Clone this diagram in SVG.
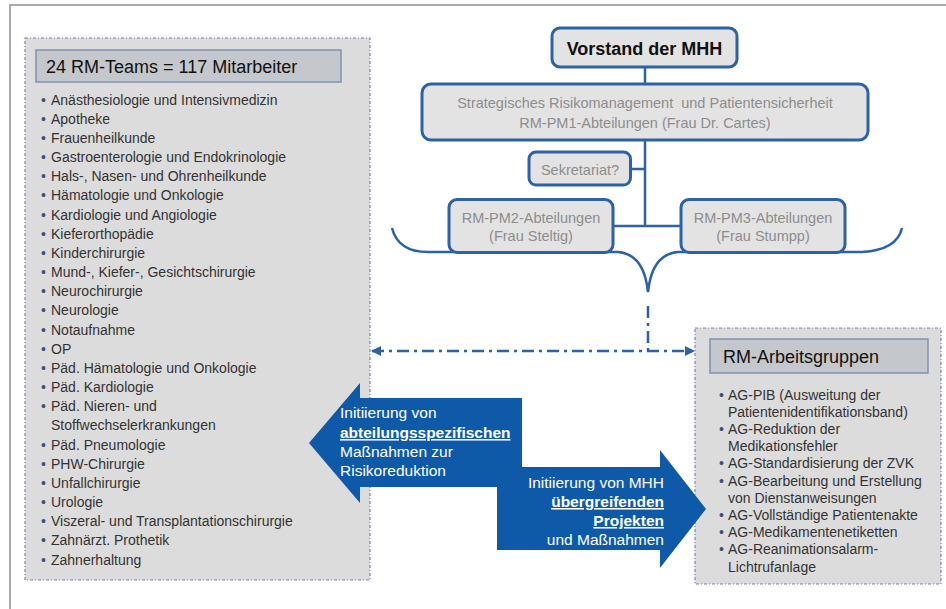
<svg xmlns="http://www.w3.org/2000/svg" width="946" height="609" viewBox="0 0 946 609">
<defs>
<style>
text{font-family:"Liberation Sans",Arial,sans-serif}
.frame{stroke:#a9a9a9;stroke-width:2;fill:none}
.panel{fill:#dcdcdc;stroke:#7f80b8;stroke-width:1.2;stroke-dasharray:3 2 1 2}
.hdr{fill:#c4c7cb;stroke:#7f93b3;stroke-width:1.5}
.hdrt{font-size:18px;fill:#111}
.li{font-size:14px;fill:#333}
.b{fill:#3c4f7a}
.node{fill:#e3e3e3;stroke:#2d62a6;stroke-width:3}
.nt{font-size:14.5px;fill:#8d8d8d;text-anchor:middle}
.tree{stroke:#2d62a6;stroke-width:2.5;fill:none}
.dd{stroke:#2d62a6;stroke-width:2.5;fill:none;stroke-dasharray:12 5 3 5}
.arrow{fill:#0f5aa8}
.at{font-size:15.5px;fill:#fff}
.u{font-weight:bold;text-decoration:underline}
</style>
<marker id="ah" viewBox="0 0 10 10" refX="9" refY="5" markerWidth="4" markerHeight="4" orient="auto-start-reverse">
<path d="M0,0 L10,5 L0,10 Z" fill="#2d62a6"/>
</marker>
</defs>
<rect width="946" height="609" fill="#fff"/>
<path class="frame" d="M10,609 L10,5 L946,5"/>

<g id="rm-teams">
<rect class="panel" x="25" y="38" width="345" height="542"/>
<rect class="hdr" x="36" y="50" width="305" height="32"/>
<text class="hdrt" x="46" y="72.5">24 RM-Teams = 117 Mitarbeiter</text>
<g class="li">
<text y="104.5"><tspan class="b" x="41">•</tspan><tspan x="51">Anästhesiologie und Intensivmedizin</tspan></text>
<text y="123.7"><tspan class="b" x="41">•</tspan><tspan x="51">Apotheke</tspan></text>
<text y="142.8"><tspan class="b" x="41">•</tspan><tspan x="51">Frauenheilkunde</tspan></text>
<text y="162"><tspan class="b" x="41">•</tspan><tspan x="51">Gastroenterologie und Endokrinologie</tspan></text>
<text y="181.2"><tspan class="b" x="41">•</tspan><tspan x="51">Hals-, Nasen- und Ohrenheilkunde</tspan></text>
<text y="200.4"><tspan class="b" x="41">•</tspan><tspan x="51">Hämatologie und Onkologie</tspan></text>
<text y="219.5"><tspan class="b" x="41">•</tspan><tspan x="51">Kardiologie und Angiologie</tspan></text>
<text y="238.7"><tspan class="b" x="41">•</tspan><tspan x="51">Kieferorthopädie</tspan></text>
<text y="257.9"><tspan class="b" x="41">•</tspan><tspan x="51">Kinderchirurgie</tspan></text>
<text y="277"><tspan class="b" x="41">•</tspan><tspan x="51">Mund-, Kiefer-, Gesichtschirurgie</tspan></text>
<text y="296.2"><tspan class="b" x="41">•</tspan><tspan x="51">Neurochirurgie</tspan></text>
<text y="315.4"><tspan class="b" x="41">•</tspan><tspan x="51">Neurologie</tspan></text>
<text y="334.5"><tspan class="b" x="41">•</tspan><tspan x="51">Notaufnahme</tspan></text>
<text y="353.7"><tspan class="b" x="41">•</tspan><tspan x="51">OP</tspan></text>
<text y="372.9"><tspan class="b" x="41">•</tspan><tspan x="51">Päd. Hämatologie und Onkologie</tspan></text>
<text y="392.1"><tspan class="b" x="41">•</tspan><tspan x="51">Päd. Kardiologie</tspan></text>
<text y="411.2"><tspan class="b" x="41">•</tspan><tspan x="51">Päd. Nieren- und</tspan></text>
<text y="430.4" x="51">Stoffwechselerkrankungen</text>
<text y="449.6"><tspan class="b" x="41">•</tspan><tspan x="51">Päd. Pneumologie</tspan></text>
<text y="468.7"><tspan class="b" x="41">•</tspan><tspan x="51">PHW-Chirurgie</tspan></text>
<text y="487.9"><tspan class="b" x="41">•</tspan><tspan x="51">Unfallchirurgie</tspan></text>
<text y="507.1"><tspan class="b" x="41">•</tspan><tspan x="51">Urologie</tspan></text>
<text y="526.2"><tspan class="b" x="41">•</tspan><tspan x="51">Viszeral- und Transplantationschirurgie</tspan></text>
<text y="545.4"><tspan class="b" x="41">•</tspan><tspan x="51">Zahnärzt. Prothetik</tspan></text>
<text y="564.6"><tspan class="b" x="41">•</tspan><tspan x="51">Zahnerhaltung</tspan></text>
</g>
</g>

<g id="rm-arbeitsgruppen">
<rect class="panel" x="695" y="328" width="246" height="256"/>
<rect class="hdr" x="710" y="339" width="218" height="34"/>
<text class="hdrt" x="723" y="363">RM-Arbeitsgruppen</text>
<g class="li">
<text y="399.5"><tspan class="b" x="719">•</tspan><tspan x="728">AG-PIB (Ausweitung der</tspan></text>
<text y="416.7" x="728">Patientenidentifikationsband)</text>
<text y="433.9"><tspan class="b" x="719">•</tspan><tspan x="728">AG-Reduktion der</tspan></text>
<text y="451.1" x="728">Medikationsfehler</text>
<text y="468.3"><tspan class="b" x="719">•</tspan><tspan x="728">AG-Standardisierung der ZVK</tspan></text>
<text y="485.5"><tspan class="b" x="719">•</tspan><tspan x="728">AG-Bearbeitung und Erstellung</tspan></text>
<text y="502.7" x="728">von Dienstanweisungen</text>
<text y="519.9"><tspan class="b" x="719">•</tspan><tspan x="728">AG-Vollständige Patientenakte</tspan></text>
<text y="537.1"><tspan class="b" x="719">•</tspan><tspan x="728">AG-Medikamentenetiketten</tspan></text>
<text y="554.3"><tspan class="b" x="719">•</tspan><tspan x="728">AG-Reanimationsalarm-</tspan></text>
<text y="571.5" x="728">Lichtrufanlage</text>
</g>
</g>

<g id="connectors">
<path class="tree" d="M645,67 L645,84 M645,140 L645,226 M630.5,169 L645,169 M613,226 L681,226"/>
<path class="tree" d="M392,228 Q398,252 428,252 L618,252 Q644,254 648,292 Q652,254 678,252 L862,252 Q897,250 902,228"/>
<path class="dd" d="M648,306 L648,351"/>
<path class="dd" d="M372,351 L694,351" marker-start="url(#ah)" marker-end="url(#ah)"/>
</g>

<g id="vorstand">
<rect class="node" x="552" y="28" width="185" height="39" rx="8"/>
<text x="644.5" y="54.5" font-size="18" font-weight="bold" fill="#111" text-anchor="middle">Vorstand der MHH</text>
</g>
<g id="strategisch">
<rect class="node" x="422" y="84" width="446" height="56" rx="9"/>
<text class="nt" x="645" y="108" font-size="15.5">Strategisches Risikomanagement&#160; und Patientensicherheit</text>
<text class="nt" x="645" y="128" font-size="15.5">RM-PM1-Abteilungen (Frau Dr. Cartes)</text>
</g>
<g id="sekretariat">
<rect class="node" x="529" y="152" width="101.5" height="33" rx="7"/>
<text class="nt" x="580" y="175">Sekretariat?</text>
</g>
<g id="rm-pm2">
<rect class="node" x="449" y="199.5" width="164" height="53" rx="8"/>
<text class="nt" x="531" y="223">RM-PM2-Abteilungen</text>
<text class="nt" x="531" y="241">(Frau Steltig)</text>
</g>
<g id="rm-pm3">
<rect class="node" x="681" y="199.5" width="164" height="53" rx="8"/>
<text class="nt" x="763" y="223">RM-PM3-Abteilungen</text>
<text class="nt" x="763" y="241">(Frau Stumpp)</text>
</g>

<g id="arrow-left">
<polygon class="arrow" points="309,443 360,383 360,398 522,398 522,487 360,487 360,503"/>
<text class="at" x="340" y="418">Initiierung von</text>
<text class="at u" x="340" y="438">abteilungsspezifischen</text>
<text class="at" x="340" y="457">Maßnahmen zur</text>
<text class="at" x="340" y="476">Risikoreduktion</text>
</g>
<g id="arrow-right">
<polygon class="arrow" points="497,467 660,467 660,450 706,509 660,568 660,550 497,550"/>
<g text-anchor="end">
<text class="at" x="664" y="488">Initiierung von MHH</text>
<text class="at u" x="664" y="507">übergreifenden</text>
<text class="at u" x="664" y="526">Projekten</text>
<text class="at" x="664" y="545">und Maßnahmen</text>
</g>
</g>
</svg>
